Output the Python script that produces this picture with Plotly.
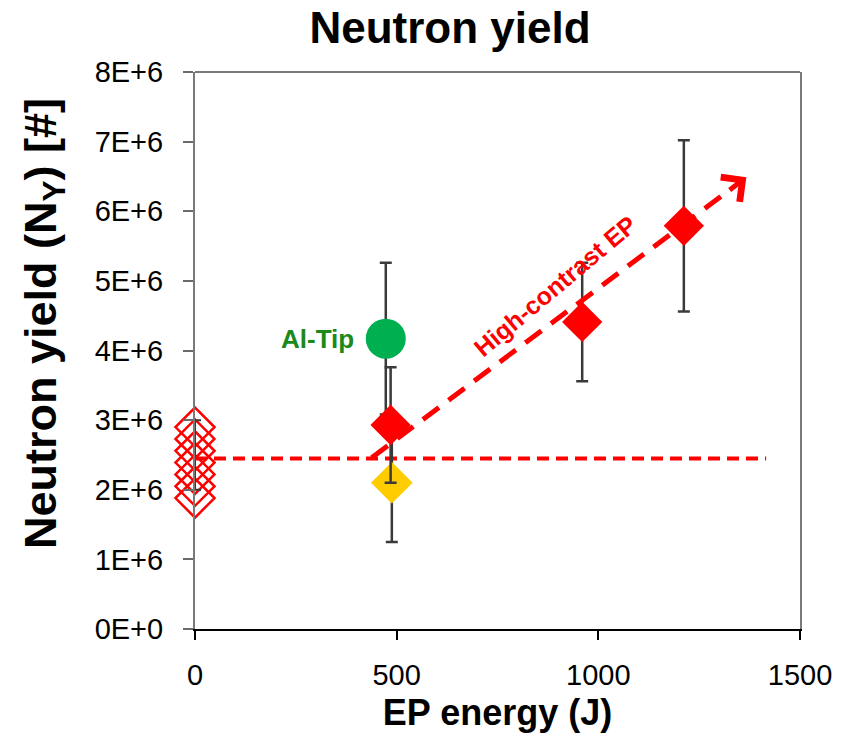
import plotly.graph_objects as go

# ---------------- data ----------------
ref_x = [0, 0, 0, 0, 0, 0, 0]
ref_y = [2.90e6, 2.73e6, 2.56e6, 2.39e6, 2.22e6, 2.05e6, 1.88e6]

ref_mean_x = [0]
ref_mean_y = [2.5e6]
ref_mean_err = [0.5e6]

hc_x = [485, 960, 1212]
hc_y = [2.93e6, 4.41e6, 5.79e6]
hc_err = [0.83e6, 0.85e6, 1.23e6]

yellow_x = [488]
yellow_y = [2.10e6]
yellow_err = [0.85e6]

altip_x = [473]
altip_y = [4.17e6]
altip_err = [1.09e6]

base_x = [0, 1416]
base_y = [2.45e6, 2.45e6]

trend_x = [438, 1322]
trend_y = [2.46e6, 6.29e6]
arrow_tip = (1367, 6.49e6)

xticks = [0, 500, 1000, 1500]
yticks = [0, 1e6, 2e6, 3e6, 4e6, 5e6, 6e6, 7e6, 8e6]
ytick_text = ["0E+0", "1E+6", "2E+6", "3E+6", "4E+6", "5E+6", "6E+6", "7E+6", "8E+6"]

FONT = "Liberation Sans, Arial, sans-serif"
NARROW = "Liberation Sans Narrow, Arial Narrow, Liberation Sans, Arial, sans-serif"
ERRC = "#3a3a3a"

fig = go.Figure()

# open diamonds at 0 J
fig.add_trace(go.Scatter(
    x=ref_x, y=ref_y, mode="markers", cliponaxis=False,
    marker=dict(symbol="diamond-open", size=30, color="#FF0000", line=dict(width=2.5, color="#FF0000")),
    showlegend=False))
fig.add_trace(go.Scatter(
    x=ref_mean_x, y=ref_mean_y, mode="markers", cliponaxis=False,
    marker=dict(size=1, color="rgba(0,0,0,0)"),
    error_y=dict(type="data", array=ref_mean_err, color=ERRC, thickness=2, width=6),
    showlegend=False))

# baseline dashed line
fig.add_trace(go.Scatter(
    x=base_x, y=base_y, mode="lines",
    line=dict(color="#FF0000", width=4, dash="12px,7px"),
    showlegend=False))

# Al-Tip
fig.add_trace(go.Scatter(
    x=altip_x, y=altip_y, mode="markers",
    marker=dict(symbol="circle", size=40, color="#00B050"),
    error_y=dict(type="data", array=altip_err, color=ERRC, thickness=2.5, width=6),
    showlegend=False))

# yellow diamond
fig.add_trace(go.Scatter(
    x=yellow_x, y=yellow_y, mode="markers",
    marker=dict(symbol="diamond", size=32, color="#FFCC00"),
    error_y=dict(type="data", array=yellow_err, color=ERRC, thickness=2.5, width=6),
    showlegend=False))

# high-contrast diamonds
fig.add_trace(go.Scatter(
    x=hc_x, y=hc_y, mode="markers",
    marker=dict(symbol="diamond", size=31, color="#FF0000"),
    error_y=dict(type="data", array=hc_err, color=ERRC, thickness=2.5, width=6),
    showlegend=False))

# trend arrow (dashed shaft)
fig.add_trace(go.Scatter(
    x=trend_x, y=trend_y, mode="lines",
    line=dict(color="#FF0000", width=5, dash="20px,12px"),
    showlegend=False))
# arrow head (chevron)
fig.add_annotation(
    x=arrow_tip[0], y=arrow_tip[1], ax=trend_x[1], ay=trend_y[1],
    xref="x", yref="y", axref="x", ayref="y",
    showarrow=True, arrowhead=4, arrowsize=1.2, arrowwidth=5, arrowcolor="#FF0000", text="")

fig.add_annotation(
    x=303, y=4.17e6, xref="x", yref="y", text="<b>Al-Tip</b>", showarrow=False,
    font=dict(family=NARROW, size=26, color="#1A8A1A"))

fig.add_annotation(
    x=893, y=4.92e6, xref="x", yref="y", text="<b>High-contrast EP</b>", showarrow=False,
    textangle=-40, font=dict(family=NARROW, size=25, color="#FF0000"))

# y axis title as rotated text
fig.add_annotation(
    xref="paper", yref="paper",
    x=(42 - 195) / (844 - 195 - 40), y=(739 - 110 - 324) / (739 - 72 - 110),
    xanchor="center", yanchor="middle",
    text="<b>Neutron yield (N<sub>Y</sub>) [#]</b>",
    showarrow=False, textangle=-90, font=dict(family=FONT, size=45, color="black"))

# top border
fig.add_shape(type="line", xref="paper", yref="paper", x0=0, x1=1, y0=1, y1=1,
              line=dict(color="#7a7a7a", width=2))

fig.update_layout(
    width=844, height=739,
    margin=dict(l=195, r=40, t=72, b=110),
    paper_bgcolor="white", plot_bgcolor="white",
    title=dict(text="<b>Neutron yield</b>", x=450/844, xanchor="center", xref="container",
               y=1 - 28/739, yanchor="middle", yref="container",
               font=dict(family=FONT, size=44, color="black")),
    xaxis=dict(range=[0, 1500], tickvals=xticks, ticks="outside", ticklen=9, tickwidth=1.5,
               tickcolor="black", showline=True, linecolor="black", linewidth=2,
               showgrid=False, zeroline=False,
               tickfont=dict(family=FONT, size=29, color="black"), ticklabelstandoff=10,
               title=dict(text="<b>EP energy (J)</b>", standoff=10,
                          font=dict(family=FONT, size=36, color="black"))),
    yaxis=dict(range=[0, 8e6], tickvals=yticks, ticktext=ytick_text, ticks="outside", ticklen=10,
               tickwidth=1.5, tickcolor="#6a6a6a", showline=True, linecolor="#7a7a7a", linewidth=2,
               mirror=True, showgrid=False, zeroline=False,
               tickfont=dict(family=FONT, size=29, color="black"), ticklabelstandoff=14),
)

fig.write_html("out.html")
